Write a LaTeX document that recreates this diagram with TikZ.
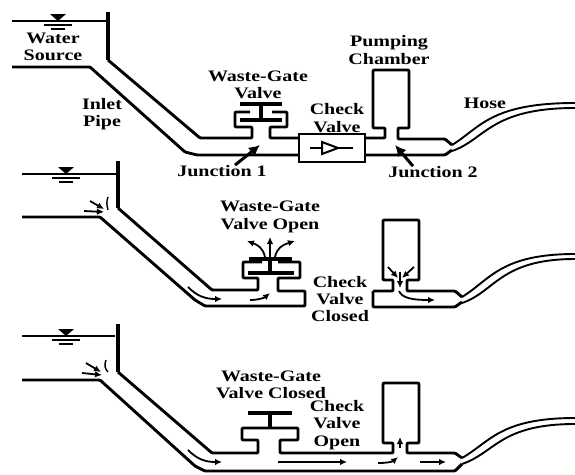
\documentclass[tikz,border=0pt]{standalone}
\usepackage{fontspec}
\setmainfont[FakeStretch=1.25]{Liberation Serif}
\usepackage{tikz}
\usetikzlibrary{shapes,arrows,arrows.meta,positioning,calc}
\tikzset{
  lbl/.style={align=center, inner sep=0pt, font=\fontsize{16}{17.4}\selectfont\bfseries},
  wall/.style={line width=3.2pt, line join=round},
  pipe/.style={line width=2.9pt, rounded corners=1pt, line join=round},
  hose/.style={line width=1.9pt},
  level/.style={line width=1.8pt},
  flow/.style={line width=1.8pt, -{Latex[length=7pt,width=6.5pt]}},
  ptr/.style={line width=3pt, -{Latex[length=11pt,width=11pt]}}
}
% free surface mark: triangle and two bars under the water line
\newcommand{\levelmark}[2]{
  \fill (#1-8,#2-7) -- (#1+8,#2-7) -- (#1,#2) -- cycle;
  \draw[line width=2.2pt] (#1-14,#2+4) -- (#1+14,#2+4);
  \draw[line width=2.2pt] (#1-7,#2+8) -- (#1+7,#2+8);
}

\begin{document}
\begin{tikzpicture}[x=1pt,y=-1pt]
  \useasboundingbox (0,0) rectangle (575,474);

  % Top panel: labelled parts
  \node[lbl] (source) at (53,47) {Water\\Source};
  \node[lbl] (inlet) at (102,114) {Inlet\\Pipe};
  \node[lbl] (gatea) at (258,85) {Waste-Gate\\Valve};
  \node[lbl] (checka) at (337,118) {Check\\Valve};
  \node[lbl] (pumping) at (389,50) {Pumping\\Chamber};
  \node[lbl] (hoselabel) at (485,103) {Hose};
  \node[lbl] (juncta) at (222,171) {Junction 1};
  \node[lbl] (junctb) at (433,172) {Junction 2};
  \coordinate (jointa) at (260,145);
  \coordinate (jointb) at (395,145);
  \draw[level] (12,21) -- (108,21);
  \levelmark{58}{21}
  \draw[wall] (108,12) -- (108,60);
  \draw[pipe] (12,67) -- (90,67) -- (185,152) -- (197,155) -- (299,155);
  \draw[pipe] (108,60) -- (200,138) -- (252,138) -- (252,127) -- (235,127) -- (235,112) -- (250,112);
  \draw[pipe] (272,112) -- (287,112) -- (287,127) -- (270,127) -- (270,138) -- (299,138);
  \draw[wall] (240,104) -- (282,104) (261,104) -- (261,120) (240,120) -- (282,120);
  % check valve box
  \node[draw, rectangle, line width=1.6pt, fill=white, minimum width=66pt, minimum height=28pt, inner sep=0pt] (boxa) at (332,148) {};
  \draw[line width=2pt] (310,148) -- (322,148) (338,148) -- (353,148);
  \draw[line width=2pt] (322,142) -- (338,148) -- (322,154) -- cycle;
  \draw[pipe] (boxa.east |- 0,138) -- (385,138) -- (385,128) -- (373,128) -- (373,70) -- (409,70) -- (409,128) -- (398,128) -- (398,139) -- (445,139) -- (452,145);
  \draw[pipe] (boxa.east |- 0,155) -- (445,155) -- (452,150);
  \draw[hose] (452,145) .. controls (480,128) and (490,103) .. (575,103);
  \draw[hose] (452,151) .. controls (485,140) and (490,108) .. (575,108);
  \draw[ptr] ([xshift=13pt]juncta.north) -- (jointa);
  \draw[ptr] ([xshift=-20pt]junctb.north) -- (jointb);

  % Middle panel: valve open
  \node[lbl] (gateb) at (270,217) {Waste-Gate\\Valve Open};
  \node[lbl] (checkb) at (340,299) {Check\\Valve\\Closed};
  \draw[level] (22,174) -- (118,174);
  \levelmark{66}{174}
  \draw[wall] (118,161) -- (118,208);
  \draw[pipe] (22,217) -- (100,217) -- (195,300) -- (205,306) -- (305,306) -- (305,291) -- (278,291) -- (278,278) -- (300,278) -- (300,262) -- (278,262);
  \draw[pipe] (118,208) -- (212,290) -- (258,290) -- (258,278) -- (243,278) -- (243,262) -- (262,262);
  \draw[wall] (249,259) -- (292,259) (270,259) -- (270,273) (248,273) -- (294,273);
  \draw[flow] (270,257) -- (270,237);
  \draw[flow] (265,257) .. controls (263,248) and (258,245) .. (247,241);
  \draw[flow] (275,257) .. controls (277,248) and (282,245) .. (295,241);
  \draw[flow] (188,287) .. controls (197,296) and (205,299) .. (222,299);
  \draw[flow] (250,300) .. controls (258,300) and (264,298) .. (270,293);
  \draw[flow] (90,201) -- (104,209);
  \draw[flow] (84,211) -- (104,212);
  \draw[line width=1.4pt] (108,197) .. controls (106,202) and (107,206) .. (108,210);
  \draw[pipe] (373,291) -- (393,291) -- (393,280) -- (383,280) -- (383,220) -- (419,220) -- (419,280) -- (407,280) -- (407,291) -- (455,291) -- (462,297);
  \draw[pipe] (373,291) -- (373,307) -- (455,307) -- (462,302);
  \draw[hose] (462,297) .. controls (490,280) and (500,254) .. (575,254);
  \draw[hose] (462,303) .. controls (495,292) and (500,259) .. (575,259);
  \draw[flow] (388,267) -- (398,278);
  \draw[flow] (414,267) -- (402,278);
  \draw[flow] (400,272) -- (400,288);
  \draw[flow] (399,291) .. controls (402,298) and (412,300) .. (435,300);

  % Bottom panel: check valve open
  \node[lbl] (gatec) at (271,385) {Waste-Gate\\Valve Closed};
  \node[lbl] (checkc) at (337,425) {Check\\Valve\\Open};
  \draw[level] (22,336) -- (115,336);
  \levelmark{66}{336}
  \draw[wall] (118,324) -- (118,372);
  \draw[pipe] (22,380) -- (100,380) -- (195,466) -- (205,471) -- (455,471) -- (462,464);
  \draw[pipe] (118,372) -- (212,453) -- (258,453) -- (258,440) -- (242,440) -- (242,428) -- (298,428) -- (298,440) -- (280,440) -- (280,453) -- (393,453) -- (393,443) -- (383,443) -- (383,383) -- (419,383) -- (419,443) -- (407,443) -- (407,453) -- (455,453) -- (462,458);
  \draw[wall] (248,413) -- (292,413) (270,413) -- (270,428);
  \draw[hose] (462,458) .. controls (490,442) and (500,418) .. (575,418);
  \draw[hose] (462,464) .. controls (495,453) and (500,424) .. (575,424);
  \draw[flow] (188,450) .. controls (197,459) and (205,462) .. (222,462);
  \draw[flow] (278,462) -- (347,462);
  \draw[flow] (378,463) .. controls (386,463) and (392,462) .. (398,457);
  \draw[flow] (400,448) -- (400,437);
  \draw[flow] (420,462) -- (446,462);
  \draw[flow] (86,363) -- (101,372);
  \draw[flow] (82,373) -- (102,375);
  \draw[line width=1.4pt] (106,360) .. controls (104,365) and (105,369) .. (108,372);
\end{tikzpicture}
\end{document}
